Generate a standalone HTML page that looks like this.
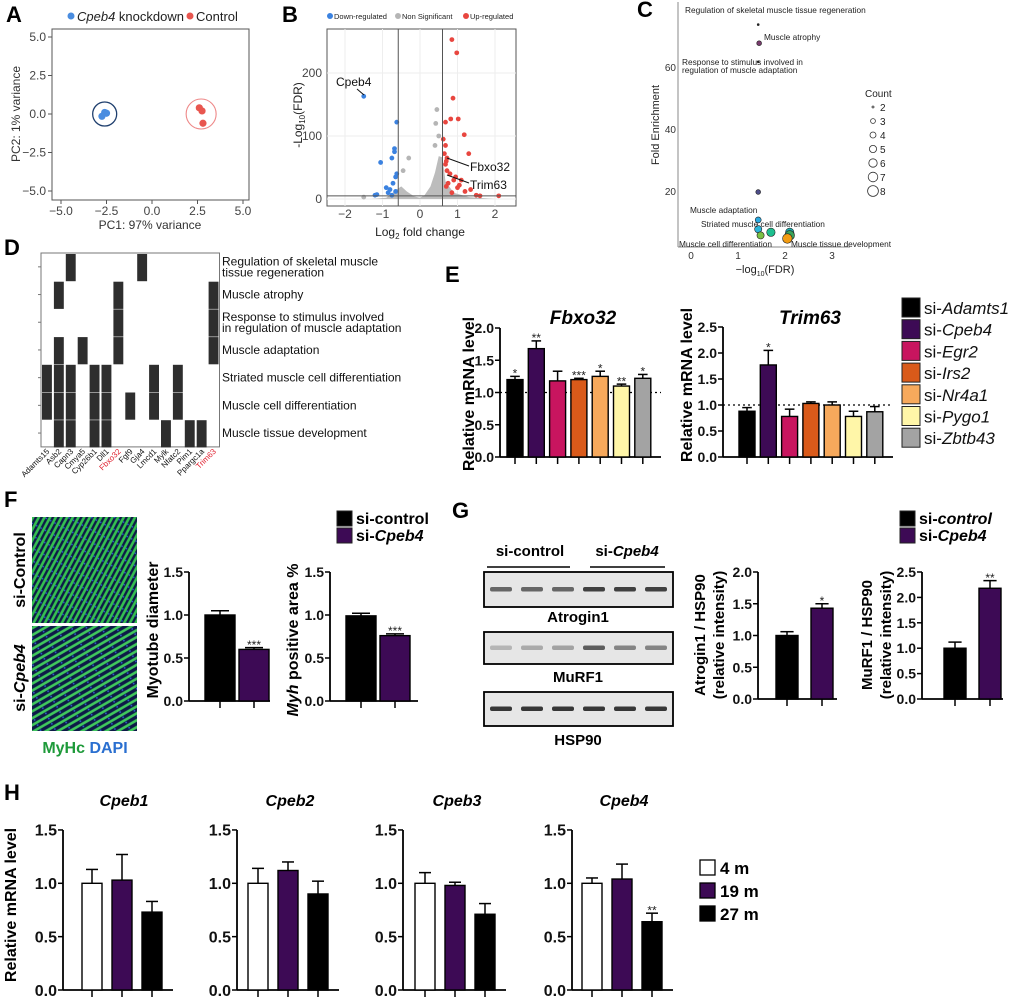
<!DOCTYPE html>
<html><head><meta charset="utf-8">
<style>
html,body{margin:0;padding:0;background:#fff;}
svg{display:block;font-family:"Liberation Sans",Arial,sans-serif;}
.pl{font-size:22px;font-weight:bold;}
</style></head>
<body>
<svg id="fig" width="1020" height="1003" viewBox="0 0 1020 1003" xmlns="http://www.w3.org/2000/svg">
<defs>
<pattern id="fibA" width="11" height="5" patternUnits="userSpaceOnUse" patternTransform="rotate(-62)">
<rect width="11" height="5" fill="#0d1a48"/><rect y="0.8" width="11" height="2.6" fill="#35c050"/><circle cx="4" cy="4.2" r="0.8" fill="#2e5fd0"/>
</pattern>
<pattern id="fibB" width="13" height="6" patternUnits="userSpaceOnUse" patternTransform="rotate(-30)">
<rect width="13" height="6" fill="#0d1a48"/><rect y="0.8" width="13" height="2.6" fill="#40c85c"/><circle cx="8" cy="4.8" r="0.9" fill="#2e5fd0"/>
</pattern>
</defs>
<g id="root"></g>
</svg>
<script>
// ---------- DATA ----------
const pcaKdX=[-2.6,-2.75,-2.5];
const pcaKdY=[0.1,-0.15,0.05];
const pcaCtX=[2.6,2.75,2.8];
const pcaCtY=[0.4,0.2,-0.6];
const pcaTicks=[-5,-2.5,0,2.5,5];
const downX=[-1.5,-0.62,-0.68,-0.68,-0.75,-1.05,-0.62,-0.65,-0.72,-0.9,-0.8,-0.85,-1.15,-1.2,-0.75,-0.65];
const downY=[163,122,80,75,65,58,40,35,25,18,15,10,7,6,6,12];
const nsX=[0.45,0.42,0.5,-0.3,0.4,-0.45,-1.5];
const nsY=[142,120,100,65,85,45,3];
const upX=[0.85,0.98,0.88,0.82,1.02,0.68,1.18,0.62,0.68,1.3,0.65,0.72,0.7,0.68,0.8,0.95,1.1,0.75,0.7,1.0,1.2,0.85,1.5,2.1,1.6,0.9,0.72,1.35,1.05];
const upY=[253,232,160,127,127,122,102,95,85,72,72,65,60,55,40,35,30,25,20,18,12,10,6,5,5,30,45,15,22];
const volXTicks=[-2,-1,0,1,2];
const volYTicks=[0,100,200];
const goFdr=[1.43,1.45,1.43,1.43,1.43,1.43,1.48,1.7,2.1,2.1,2.05];
const goFE=[74,68,62,20,11,8,6,7,7,6,5];
const goCount=[2,3,2,3,4,5,5,6,6,7,7];
const goColor=['#222','#7a3b6e','#222','#4d4d88','#29a9e0','#2bb5d8','#7ac143','#1dbf8f','#1ab0b0','#3aa35a','#f39c12'];
const countLegend=[2,3,4,5,6,7,8];
const dGenes=['Adamts15','Asb2','Capn3','Cmya5','Cyp26b1','Dll1','Fbxo32','Fgf9','Gja4','Lmcd1','Mylk','Nfatc2','Pim1','Ppargc1a','Trim63'];
const dTerms=[['Regulation of skeletal muscle','tissue regeneration'],['Muscle atrophy'],['Response to stimulus involved','in regulation of muscle adaptation'],['Muscle adaptation'],['Striated muscle cell differentiation'],['Muscle cell differentiation'],['Muscle tissue development']];
const dCells=[[2,8],[1,6,14],[6,14],[1,3,6,14],[0,1,2,4,5,9,11],[0,1,2,4,5,7,9,11],[1,2,4,5,10,12,13]];
const eGroups=['Adamts1','Cpeb4','Egr2','Irs2','Nr4a1','Pygo1','Zbtb43'];
const eColors=['#000000','#3d0a55','#c8155f','#d95a1a','#f7a95c','#fff6a8','#a3a3a3'];
const fbxoVals=[1.2,1.68,1.18,1.2,1.25,1.1,1.22];
const fbxoErr=[0.05,0.12,0.15,0.02,0.08,0.03,0.06];
const fbxoSig=['*','**','','***','*','**','*'];
const trimVals=[0.88,1.77,0.78,1.03,1.0,0.78,0.87];
const trimErr=[0.07,0.28,0.14,0.03,0.06,0.1,0.1];
const trimSig=['','*','','','','',''];
const myoVals=[1.0,0.6]; const myoErr=[0.05,0.02];
const myhVals=[0.99,0.76]; const myhErr=[0.03,0.02];
const atroVals=[1.0,1.43]; const atroErr=[0.06,0.07];
const murfVals=[1.0,2.18]; const murfErr=[0.12,0.15];
const hTitles=['Cpeb1','Cpeb2','Cpeb3','Cpeb4'];
const hVals=[[1.0,1.03,0.73],[1.0,1.12,0.9],[1.0,0.98,0.71],[1.0,1.04,0.64]];
const hErr=[[0.13,0.24,0.1],[0.14,0.08,0.12],[0.1,0.03,0.1],[0.05,0.14,0.08]];
const hSig=[['','',''],['','',''],['','',''],['','','**']];
const ageLabels=['4 m','19 m','27 m'];
const ageColors=['#ffffff','#3d0a55','#000000'];

// ---------- helpers ----------
const NS='http://www.w3.org/2000/svg';
const root=document.getElementById('root');
function mk(tag,attrs,parent,txt){const e=document.createElementNS(NS,tag);for(const k in attrs)e.setAttribute(k,attrs[k]);if(txt!==undefined)e.textContent=txt;(parent||root).appendChild(e);return e;}
function grp(name){const g=mk('g',{});


return g;}

[['A',6,22],['B',282,22],['C',637,17],['D',4,255],['E',445,282],['F',4,507],['G',452,518],['H',4,800]].forEach(p=>{
 const t=mk('text',{x:p[1],y:p[2],class:'pl'},root,p[0]);
 
 
});

// ---------- A ----------
(function(){
 const g=grp('pca-plot');
 const sx=v=>152+v*18.2, sy=v=>114-v*15.4;
 mk('rect',{x:52,y:29,width:197,height:171,fill:'none',stroke:'#555','stroke-width':1},g);
 pcaTicks.forEach(t=>{
  mk('line',{x1:sx(t),x2:sx(t),y1:200,y2:204,stroke:'#555'},g);
  mk('text',{x:sx(t),y:215,'font-size':12,fill:'#444','text-anchor':'middle'},g,t.toFixed(1).replace('-','−'));
  mk('line',{x1:48,x2:52,y1:sy(t),y2:sy(t),stroke:'#555'},g);
  mk('text',{x:46,y:sy(t)+4,'font-size':12,fill:'#444','text-anchor':'end'},g,t.toFixed(1).replace('-','−'));
 });
 mk('text',{x:150,y:229,'font-size':12,fill:'#333','text-anchor':'middle'},g,'PC1: 97% variance');
 mk('text',{x:20,y:114,'font-size':12,fill:'#333','text-anchor':'middle',transform:'rotate(-90 20 114)'},g,'PC2: 1% variance');
 mk('circle',{cx:sx(-2.6),cy:sy(0),r:12,fill:'none',stroke:'#1f3f6e','stroke-width':1.3},g);
 mk('circle',{cx:sx(2.7),cy:sy(0),r:15,fill:'none',stroke:'#e88','stroke-width':1.1},g);
 pcaKdX.forEach((x,i)=>{const c=mk('circle',{cx:sx(x),cy:sy(pcaKdY[i]),r:3.6,fill:'#4a8de0'},g);
  
  });
 pcaCtX.forEach((x,i)=>{const c=mk('circle',{cx:sx(x),cy:sy(pcaCtY[i]),r:3.6,fill:'#e8564f'},g);
  
  });
 mk('circle',{cx:71,cy:16,r:3.5,fill:'#4a8de0'},g);
 const t=mk('text',{x:77,y:21,'font-size':13,fill:'#222'},g);
 mk('tspan',{'font-style':'italic'},t,'Cpeb4'); mk('tspan',{},t,' knockdown');
 mk('circle',{cx:190,cy:16,r:3.5,fill:'#e8564f'},g);
 mk('text',{x:196,y:21,'font-size':13,fill:'#222'},g,'Control');
})();

// ---------- B ----------
(function(){
 const g=grp('volcano-plot');
 const sx=v=>420+v*37.5, sy=v=>199-v*0.63;
 mk('rect',{x:327,y:29,width:189,height:177,fill:'#fff',stroke:'#555'},g);
 volXTicks.forEach(t=>{mk('line',{x1:sx(t),x2:sx(t),y1:29,y2:206,stroke:'#eee'},g);
  mk('text',{x:sx(t),y:218,'font-size':12,fill:'#444','text-anchor':'middle'},g,String(t).replace('-','−'));});
 volYTicks.forEach(t=>{mk('line',{x1:327,x2:516,y1:sy(t),y2:sy(t),stroke:'#eee'},g);
  mk('text',{x:322,y:sy(t)+4,'font-size':12,fill:'#444','text-anchor':'end'},g,String(t));});
 const cloud=[[-1.3,0],[-0.9,2],[-0.62,15],[-0.5,20],[-0.35,12],[-0.15,4],[0,2],[0.12,6],[0.28,20],[0.4,42],[0.5,68],[0.6,66],[0.68,28],[0.9,10],[1.3,3],[2,0]];
 mk('path',{d:'M'+cloud.map(p=>sx(p[0])+','+sy(p[1])).join('L')+'Z',fill:'#bcbcbc'},g);
 nsX.forEach((x,i)=>mk('circle',{cx:sx(x),cy:sy(nsY[i]),r:2.4,fill:'#b5b5b5'},g));
 downX.forEach((x,i)=>{const c=mk('circle',{cx:sx(x),cy:sy(downY[i]),r:2.4,fill:'#3b82e0'},g);
  
  });
 upX.forEach((x,i)=>{const c=mk('circle',{cx:sx(x),cy:sy(upY[i]),r:2.4,fill:'#e8463f'},g);
  
  });
 mk('line',{x1:sx(-0.58),x2:sx(-0.58),y1:29,y2:206,stroke:'#555'},g);
 mk('line',{x1:sx(0.6),x2:sx(0.6),y1:29,y2:206,stroke:'#555'},g);
 mk('line',{x1:327,x2:516,y1:sy(5),y2:sy(5),stroke:'#555'},g);
 mk('text',{x:336,y:86,'font-size':12,fill:'#111'},g,'Cpeb4');
 mk('line',{x1:357,x2:364,y1:89,y2:95,stroke:'#111'},g);
 mk('text',{x:470,y:171,'font-size':12,fill:'#111'},g,'Fbxo32');
 mk('line',{x1:447,x2:469,y1:158,y2:166,stroke:'#111'},g);
 mk('text',{x:470,y:189,'font-size':12,fill:'#111'},g,'Trim63');
 mk('line',{x1:447,x2:469,y1:175,y2:183,stroke:'#111'},g);
 const xl=mk('text',{x:420,y:236,'font-size':12,fill:'#222','text-anchor':'middle'},g,'Log');
 mk('tspan',{'font-size':8,dy:3},xl,'2'); mk('tspan',{dy:-3},xl,' fold change');
 const yl=mk('text',{x:302,y:115,'font-size':12,fill:'#222','text-anchor':'middle',transform:'rotate(-90 302 115)'},g,'-Log');
 mk('tspan',{'font-size':8,dy:3},yl,'10'); mk('tspan',{dy:-3},yl,'(FDR)');
 [['#3b82e0','Down-regulated',330],['#b5b5b5','Non Significant',398],['#e8463f','Up-regulated',466]].forEach(l=>{
  mk('circle',{cx:l[2],cy:16,r:3,fill:l[0]},g);mk('text',{x:l[2]+4,y:19,'font-size':7.5,fill:'#222'},g,l[1]);});
})();

// ---------- C ----------
(function(){
 const g=grp('enrichment-plot');
 const sx=v=>691+v*47, sy=v=>254-v*3.1;
 mk('line',{x1:678,x2:678,y1:2,y2:247,stroke:'#888'},g);
 mk('line',{x1:678,x2:850,y1:247,y2:247,stroke:'#888'},g);
 [0,1,2,3].forEach(t=>mk('text',{x:sx(t),y:259,'font-size':10,fill:'#333','text-anchor':'middle'},g,String(t)));
 [20,40,60].forEach(t=>mk('text',{x:676,y:sy(t)+3,'font-size':10,fill:'#333','text-anchor':'end'},g,String(t)));
 const xl=mk('text',{x:765,y:273,'font-size':11,fill:'#222','text-anchor':'middle'},g,'−log');
 mk('tspan',{'font-size':7,dy:3},xl,'10');mk('tspan',{dy:-3},xl,'(FDR)');
 mk('text',{x:659,y:125,'font-size':11,fill:'#222','text-anchor':'middle',transform:'rotate(-90 659 125)'},g,'Fold Enrichment');
 const rad=c=>1+(c-2)*0.6+(c>2?0.8:0);
 goFdr.forEach((x,i)=>{const c=mk('circle',{cx:sx(x),cy:sy(goFE[i]),r:rad(goCount[i]),fill:goColor[i],stroke:'#222','stroke-width':0.6},g);
  
  });
 const lab=[['Regulation of skeletal muscle tissue regeneration',685,13],['Muscle atrophy',764,40],['Response to stimulus involved in',682,65],['regulation of muscle adaptation',682,73],['Muscle adaptation',690,213],['Striated muscle cell differentiation',701,227],['Muscle cell differentiation',679,247],['Muscle tissue development',791,247]];
 lab.forEach(l=>mk('text',{x:l[1],y:l[2],'font-size':8.3,fill:'#222'},g,l[0]));
 mk('text',{x:865,y:97,'font-size':10,fill:'#222'},g,'Count');
 countLegend.forEach((c,i)=>{mk('circle',{cx:873,cy:107+i*14,r:rad(c),fill:'#fff',stroke:'#333','stroke-width':0.8},g);
  mk('text',{x:880,y:111+i*14,'font-size':10,fill:'#222'},g,String(c));});
})();

// ---------- D ----------
(function(){
 const g=grp('gene-term-matrix');
 const x0=41,y0=253,cw=11.9,rh=27.7;
 mk('rect',{x:x0,y:y0,width:cw*15,height:rh*7,fill:'#fff',stroke:'#777'},g);
 dCells.forEach((row,r)=>row.forEach(c=>{const e=mk('rect',{x:x0+c*cw+1,y:y0+r*rh+1,width:cw-2,height:rh-0.5,fill:'#2e2e2e'},g);
  
  }));
 dTerms.forEach((t,r)=>{const cy=y0+r*rh+rh/2;
  mk('line',{x1:x0-3,x2:x0,y1:cy,y2:cy,stroke:'#777'},g);
  t.forEach((s,k)=>mk('text',{x:222,y:cy+4+(k-(t.length-1)/2)*11,'font-size':12,fill:'#111'},g,s));});
 dGenes.forEach((s,c)=>{const cx=x0+c*cw+cw/2+3;
  mk('text',{x:cx,y:452,'font-size':8,fill:(s==='Fbxo32'||s==='Trim63')?'#e0202f':'#111','text-anchor':'end',transform:`rotate(-45 ${cx} 452)`},g,s);});
})();

// ---------- generic bar chart ----------
function barChart(o){
 const g=grp(o.name);
 const sy=v=>o.y0-v*o.ppu;
 mk('line',{x1:o.ax,x2:o.ax,y1:sy(o.ymax),y2:o.y0,stroke:'#000','stroke-width':1.8},g);
 mk('line',{x1:o.ax,x2:o.xend,y1:o.y0,y2:o.y0,stroke:'#000','stroke-width':1.8},g);
 for(let t=0;t<=o.ymax+1e-9;t+=o.step){
  mk('line',{x1:o.ax-5,x2:o.ax,y1:sy(t),y2:sy(t),stroke:'#000','stroke-width':1.5},g);
  mk('text',{x:o.ax-6,y:sy(t)+o.fs*0.36,'font-size':o.fs,'font-weight':'bold','text-anchor':'end',fill:'#111'},g,t.toFixed(1));
 }
 if(o.dotted) mk('line',{x1:o.ax,x2:o.xend,y1:sy(1),y2:sy(1),stroke:'#000','stroke-dasharray':'2,3','stroke-width':1.2},g);
 o.vals.forEach((v,i)=>{
  const cx=o.c0+i*o.dx;
  mk('line',{x1:cx,x2:cx,y1:o.y0,y2:o.y0+7,stroke:'#000','stroke-width':1.5},g);
  const e=o.err[i];
  mk('line',{x1:cx,x2:cx,y1:sy(v),y2:sy(v+e),stroke:'#000','stroke-width':1.5},g);
  mk('line',{x1:cx-o.bw*0.3,x2:cx+o.bw*0.3,y1:sy(v+e),y2:sy(v+e),stroke:'#000','stroke-width':1.5},g);
  const r=mk('rect',{x:cx-o.bw/2,y:sy(v),width:o.bw,height:v*o.ppu,fill:o.colors[i],stroke:'#000','stroke-width':1.4},g);
  
  
  if(o.sig&&o.sig[i]) mk('text',{x:cx,y:sy(v+e)-3+12*0.35,'font-size':12,'text-anchor':'middle',fill:'#222'},g,o.sig[i]);
 });
 if(o.title){mk('text',{x:o.title[1],y:o.title[2],'font-size':o.title[3],'font-weight':'bold','font-style':'italic','text-anchor':'middle'},g,o.title[0]);}
 if(o.ylab) o.ylab.forEach(l=>{const t=mk('text',{x:l.x,y:l.y,'font-size':l.fs,'font-weight':'bold','text-anchor':'middle',transform:`rotate(-90 ${l.x} ${l.y})`},g);
  l.parts.forEach(p=>mk('tspan',p[1]?{'font-style':'italic'}:{},t,p[0]));});
 return g;
}

// ---------- E ----------
barChart({name:'fbxo32-chart',ax:500,xend:661,y0:457,ppu:64.5,ymax:2,step:0.5,fs:14,c0:515,dx:21.3,bw:16,vals:fbxoVals,err:fbxoErr,sig:fbxoSig,colors:eColors,dotted:true,
 title:['Fbxo32',583,324,19],ylab:[{x:474,y:394,fs:16,parts:[['Relative mRNA level',0]]}]});
barChart({name:'trim63-chart',ax:723,xend:893,y0:457,ppu:52,ymax:2.5,step:0.5,fs:14,c0:747,dx:21.3,bw:16,vals:trimVals,err:trimErr,sig:trimSig,colors:eColors,dotted:true,
 title:['Trim63',810,324,19],ylab:[{x:692,y:385,fs:16,parts:[['Relative mRNA level',0]]}]});
(function(){const g=grp('e-legend');
 eGroups.forEach((s,i)=>{const y=298+i*21.7;
  mk('rect',{x:902,y:y,width:18,height:19,fill:eColors[i],stroke:'#222','stroke-width':1},g);
  const t=mk('text',{x:924,y:y+16,'font-size':17,fill:'#111'},g,'si-');mk('tspan',{'font-style':'italic'},t,s);});
})();

// ---------- F ----------
(function(){const g=grp('myotube-images');
 mk('rect',{x:32,y:517,width:105,height:106,fill:'url(#fibA)'},g);
 mk('rect',{x:32,y:626,width:105,height:105,fill:'url(#fibB)'},g);
 mk('text',{x:25,y:570,'font-size':16,'font-weight':'bold','text-anchor':'middle',transform:'rotate(-90 25 570)'},g,'si-Control');
 const t=mk('text',{x:25,y:678,'font-size':16,'font-weight':'bold','text-anchor':'middle',transform:'rotate(-90 25 678)'},g,'si-');
 mk('tspan',{'font-style':'italic'},t,'Cpeb4');
 const m=mk('text',{x:85,y:753,'font-size':16,'font-weight':'bold','text-anchor':'middle'},g);
 mk('tspan',{fill:'#1e9a3a'},m,'MyHc '); mk('tspan',{fill:'#2a6fd0'},m,'DAPI');
})();
const fgColors=['#000000','#3d0a55'];
barChart({name:'myotube-diameter-chart',ax:189,xend:270,y0:701,ppu:86,ymax:1.5,step:0.5,fs:14,c0:220,dx:34,bw:30,vals:myoVals,err:myoErr,sig:['','***'],colors:fgColors,
 ylab:[{x:158,y:630,fs:16,parts:[['Myotube diameter',0]]}]});
barChart({name:'myh-area-chart',ax:330,xend:418,y0:701,ppu:86,ymax:1.5,step:0.5,fs:14,c0:361,dx:34,bw:30,vals:myhVals,err:myhErr,sig:['','***'],colors:fgColors,
 ylab:[{x:298,y:640,fs:16,parts:[['Myh',1],[' positive  area %',0]]}]});
function twoLegend(name,x,y,items){const g=grp(name);
 items.forEach((it,i)=>{mk('rect',{x:x,y:y+i*17,width:15,height:15,fill:fgColors[i],stroke:'#222'},g);
  const t=mk('text',{x:x+19,y:y+i*17+13,'font-size':16,'font-weight':'bold'},g,'si-');mk('tspan',it[1]?{'font-style':'italic'}:{},t,it[0]);});}
twoLegend('f-legend',337,511,[['control',0],['Cpeb4',1]]);

// ---------- G ----------
(function(){const g=grp('western-blots');
 mk('text',{x:530,y:556,'font-size':15,'font-weight':'bold','text-anchor':'middle'},g,'si-control');
 const t=mk('text',{x:627,y:556,'font-size':15,'font-weight':'bold','text-anchor':'middle'},g,'si-');mk('tspan',{'font-style':'italic'},t,'Cpeb4');
 mk('line',{x1:487,x2:570,y1:567,y2:567,stroke:'#000','stroke-width':1.5},g);
 mk('line',{x1:590,x2:665,y1:567,y2:567,stroke:'#000','stroke-width':1.5},g);
 const blots=[[572,35,'Atrogin1',622,[0.65,0.65,0.65,0.85,0.85,0.85]],[632,32,'MuRF1',682,[0.25,0.3,0.35,0.7,0.5,0.5]],[692,34,'HSP90',745,[0.9,0.9,0.9,0.9,0.9,0.9]]];
 blots.forEach(b=>{mk('rect',{x:484,y:b[0],width:189,height:b[1],fill:'#e6e6e6',stroke:'#000','stroke-width':1.8},g);
  b[4].forEach((a,i)=>mk('rect',{x:490+i*31,y:b[0]+b[1]/2-2.5,width:22,height:4.5,rx:2,fill:'#222','fill-opacity':a},g));
  mk('text',{x:578,y:b[3],'font-size':15,'font-weight':'bold','text-anchor':'middle'},g,b[2]);});
})();
barChart({name:'atrogin1-chart',ax:758,xend:837,y0:699,ppu:63.5,ymax:2,step:0.5,fs:14,c0:787,dx:35,bw:22,vals:atroVals,err:atroErr,sig:['','*'],colors:fgColors,
 ylab:[{x:705,y:635,fs:15,parts:[['Atrogin1 / HSP90',0]]},{x:724,y:635,fs:15,parts:[['(relative intensity)',0]]}]});
barChart({name:'murf1-chart',ax:922,xend:1003,y0:699,ppu:50.8,ymax:2.5,step:0.5,fs:14,c0:955,dx:35,bw:22,vals:murfVals,err:murfErr,sig:['','**'],colors:fgColors,
 ylab:[{x:872,y:635,fs:15,parts:[['MuRF1 / HSP90',0]]},{x:891,y:635,fs:15,parts:[['(relative intensity)',0]]}]});
twoLegend('g-legend',900,511,[['control',1],['Cpeb4',1]]);

// ---------- H ----------
const hAxes=[63,237,403,572];
const hFirst=[92,258,425,592];
hTitles.forEach((ttl,k)=>{
 barChart({name:'h-'+ttl.toLowerCase()+'-chart',ax:hAxes[k],xend:hFirst[k]+81,y0:990,ppu:106.7,ymax:1.5,step:0.5,fs:16,c0:hFirst[k],dx:30,bw:20,vals:hVals[k],err:hErr[k],sig:hSig[k],colors:ageColors,
  title:[ttl,hFirst[k]+32,806,16]});
});
(function(){const g=grp('h-ylabel');
 mk('text',{x:16,y:905,'font-size':16,'font-weight':'bold','text-anchor':'middle',transform:'rotate(-90 16 905)'},g,'Relative mRNA level');
 const lg=grp('h-legend');
 ageLabels.forEach((s,i)=>{const y=873+i*23;
  mk('rect',{x:700,y:y-13,width:15,height:15,fill:ageColors[i],stroke:'#000','stroke-width':1.3},lg);
  mk('text',{x:720,y:y+1,'font-size':17,'font-weight':'bold'},lg,s);});
})();
</script>
</body></html>
